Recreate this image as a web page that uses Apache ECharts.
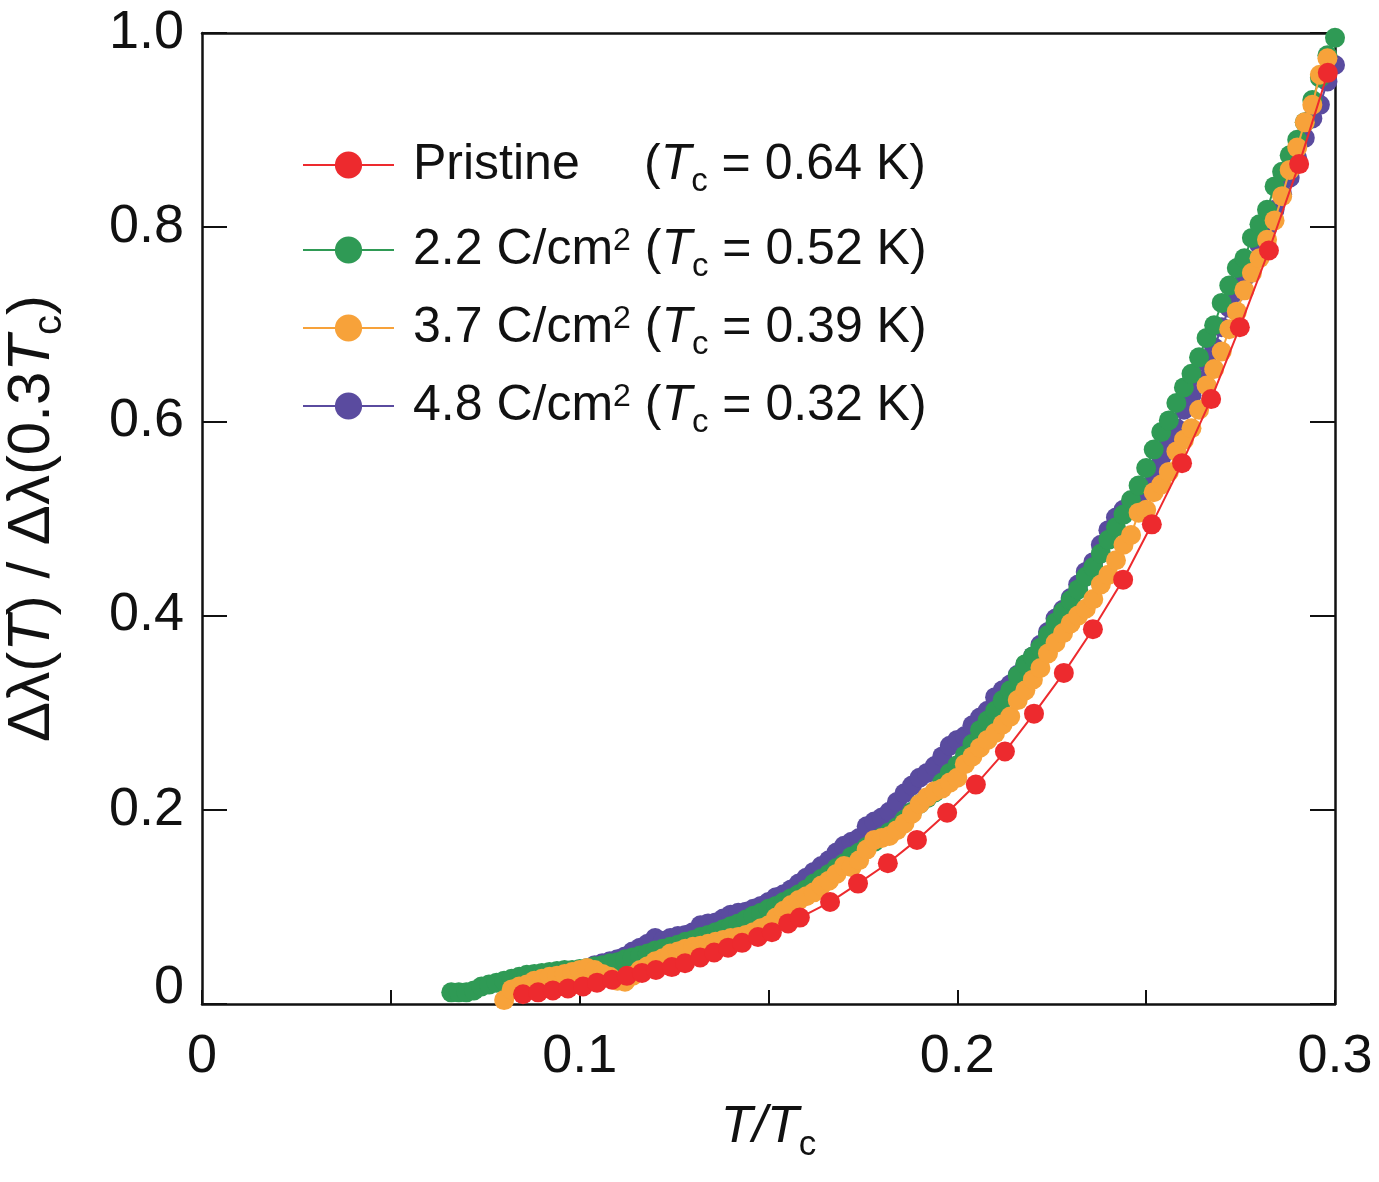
<!DOCTYPE html>
<html>
<head>
<meta charset="utf-8">
<script src="https://cdn.jsdelivr.net/npm/echarts@6/dist/echarts.min.js"></script>
<style>
html,body{margin:0;padding:0;background:#fff;}
#main{width:1379px;height:1182px;}
</style>
</head>
<body>
<div id="main"></div>
<script>
var fontName = 'Liberation Sans, Arial, Helvetica, sans-serif';

// legend order
var names = ['Pristine', '2.2 C/cm2', '3.7 C/cm2', '4.8 C/cm2'];
var tcText = ['0.64', '0.52', '0.39', '0.32'];
var colors = ['#ED2A2E', '#2F9A55', '#F7A23A', '#5A4B9F'];

// T/Tc , dlambda(T)/dlambda(0.3Tc)
var pristine = [
	[0.0850,0.010],[0.0890,0.012],[0.0929,0.014],[0.0969,0.016],[0.1009,0.018],[0.1046,0.022],
	[0.1086,0.025],[0.1125,0.029],[0.1165,0.032],[0.1202,0.035],[0.1244,0.038],[0.1279,0.042],
	[0.1319,0.048],[0.1356,0.053],[0.1393,0.058],[0.1430,0.063],[0.1472,0.069],[0.1509,0.074],
	[0.1552,0.083],[0.1583,0.089],[0.1663,0.105],[0.1737,0.124],[0.1816,0.145],[0.1893,0.169],
	[0.1973,0.197],[0.2049,0.226],[0.2126,0.260],[0.2203,0.299],[0.2282,0.341],[0.2359,0.386],
	[0.2439,0.437],[0.2515,0.494],[0.2595,0.557],[0.2672,0.623],[0.2748,0.697],[0.2825,0.776],
	[0.2905,0.865],[0.2981,0.959]
];

var dose22 = [
	[0.066,0.012],[0.068,0.012],[0.070,0.012],[0.072,0.014],[0.074,0.018],[0.076,0.020],
	[0.078,0.022],[0.080,0.024],[0.082,0.026],[0.084,0.028],[0.086,0.030],[0.088,0.031],
	[0.090,0.032],[0.092,0.033],[0.094,0.034],[0.096,0.035],[0.098,0.035],[0.100,0.036],
	[0.102,0.037],[0.104,0.039],[0.106,0.040],[0.108,0.042],[0.110,0.043],[0.112,0.046],
	[0.114,0.048],[0.116,0.050],[0.118,0.052],[0.120,0.055],[0.122,0.057],[0.124,0.059],
	[0.126,0.061],[0.128,0.064],[0.130,0.066],[0.132,0.069],[0.134,0.071],[0.136,0.074],
	[0.138,0.077],[0.140,0.080],[0.142,0.083],[0.144,0.087],[0.146,0.091],[0.148,0.094],
	[0.150,0.098],[0.152,0.101],[0.154,0.105],[0.156,0.109],[0.158,0.113],[0.160,0.118],
	[0.162,0.124],[0.164,0.129],[0.166,0.134],[0.168,0.140],[0.170,0.145],[0.172,0.152],
	[0.174,0.156],[0.176,0.162],[0.178,0.167],[0.180,0.172],[0.182,0.177],[0.184,0.182],
	[0.186,0.190],[0.188,0.198],[0.190,0.206],[0.192,0.212],[0.194,0.218],[0.196,0.228],
	[0.198,0.238],[0.200,0.246],[0.202,0.256],[0.204,0.268],[0.206,0.282],[0.208,0.292],
	[0.210,0.302],[0.212,0.313],[0.214,0.323],[0.216,0.338],[0.218,0.350],[0.220,0.358],
	[0.222,0.367],[0.224,0.380],[0.226,0.393],[0.228,0.404],[0.230,0.416],[0.232,0.427],
	[0.234,0.440],[0.236,0.450],[0.238,0.464],[0.240,0.478],[0.242,0.491],[0.244,0.504],
	[0.246,0.519],[0.248,0.534],[0.250,0.552],[0.252,0.571],[0.254,0.589],[0.256,0.601],
	[0.258,0.619],[0.260,0.635],[0.262,0.649],[0.264,0.666],[0.266,0.686],[0.268,0.699],
	[0.270,0.722],[0.272,0.740],[0.274,0.758],[0.276,0.768],[0.278,0.789],[0.280,0.803],
	[0.282,0.818],[0.284,0.842],[0.286,0.857],[0.288,0.874],[0.290,0.890],[0.292,0.908],
	[0.294,0.931],[0.296,0.954],[0.298,0.977],[0.300,0.995]
];

var dose37 = [
	[0.080,0.004],[0.082,0.015],[0.084,0.018],[0.086,0.020],[0.088,0.024],[0.090,0.026],
	[0.092,0.028],[0.094,0.029],[0.096,0.031],[0.098,0.033],[0.100,0.035],[0.102,0.037],
	[0.104,0.035],[0.106,0.031],[0.108,0.028],[0.110,0.024],[0.112,0.023],[0.114,0.029],
	[0.116,0.035],[0.118,0.039],[0.120,0.044],[0.122,0.047],[0.124,0.052],[0.126,0.054],
	[0.128,0.057],[0.130,0.059],[0.132,0.060],[0.134,0.062],[0.136,0.064],[0.138,0.066],
	[0.140,0.068],[0.142,0.069],[0.144,0.071],[0.146,0.074],[0.148,0.078],[0.150,0.081],
	[0.152,0.089],[0.154,0.096],[0.156,0.102],[0.158,0.107],[0.160,0.111],[0.162,0.115],
	[0.164,0.122],[0.166,0.127],[0.168,0.134],[0.170,0.142],[0.172,0.141],[0.174,0.148],
	[0.176,0.159],[0.178,0.169],[0.180,0.171],[0.182,0.173],[0.184,0.179],[0.186,0.186],
	[0.188,0.196],[0.190,0.206],[0.192,0.213],[0.194,0.219],[0.196,0.222],[0.198,0.228],
	[0.200,0.233],[0.202,0.247],[0.204,0.255],[0.206,0.264],[0.208,0.272],[0.210,0.279],
	[0.212,0.288],[0.214,0.296],[0.216,0.313],[0.218,0.323],[0.220,0.334],[0.222,0.346],
	[0.224,0.361],[0.226,0.372],[0.228,0.382],[0.230,0.392],[0.232,0.400],[0.234,0.407],
	[0.236,0.417],[0.238,0.432],[0.240,0.442],[0.242,0.457],[0.244,0.473],[0.246,0.483],
	[0.248,0.506],[0.250,0.509],[0.252,0.527],[0.254,0.535],[0.256,0.548],[0.258,0.569],
	[0.260,0.581],[0.262,0.593],[0.264,0.612],[0.266,0.637],[0.268,0.654],[0.270,0.672],
	[0.272,0.695],[0.274,0.713],[0.276,0.735],[0.278,0.753],[0.280,0.768],[0.282,0.787],
	[0.284,0.807],[0.286,0.832],[0.288,0.859],[0.290,0.882],[0.292,0.908],[0.294,0.926],
	[0.296,0.957],[0.298,0.974]
];

var dose48 = [
	[0.104,0.040],[0.106,0.042],[0.108,0.044],[0.110,0.046],[0.112,0.049],[0.114,0.054],
	[0.116,0.058],[0.118,0.062],[0.120,0.068],[0.122,0.065],[0.124,0.068],[0.126,0.070],
	[0.128,0.071],[0.130,0.074],[0.132,0.081],[0.134,0.083],[0.136,0.084],[0.138,0.088],
	[0.140,0.092],[0.142,0.094],[0.144,0.095],[0.146,0.098],[0.148,0.101],[0.150,0.105],
	[0.152,0.110],[0.154,0.113],[0.156,0.118],[0.158,0.124],[0.160,0.130],[0.162,0.136],
	[0.164,0.142],[0.166,0.148],[0.168,0.156],[0.170,0.163],[0.172,0.167],[0.174,0.171],
	[0.176,0.183],[0.178,0.188],[0.180,0.192],[0.182,0.198],[0.184,0.208],[0.186,0.217],
	[0.188,0.225],[0.190,0.233],[0.192,0.238],[0.194,0.245],[0.196,0.255],[0.198,0.266],
	[0.200,0.272],[0.202,0.276],[0.204,0.287],[0.206,0.295],[0.208,0.302],[0.210,0.316],
	[0.212,0.323],[0.214,0.329],[0.216,0.339],[0.218,0.349],[0.220,0.358],[0.222,0.370],
	[0.224,0.383],[0.226,0.397],[0.228,0.406],[0.230,0.418],[0.232,0.432],[0.234,0.445],
	[0.236,0.455],[0.238,0.473],[0.240,0.488],[0.242,0.501],[0.244,0.509],[0.246,0.514],
	[0.248,0.522],[0.250,0.531],[0.252,0.546],[0.254,0.563],[0.256,0.579],[0.258,0.593],
	[0.260,0.612],[0.262,0.627],[0.264,0.643],[0.266,0.661],[0.268,0.676],[0.270,0.697],
	[0.272,0.717],[0.274,0.733],[0.276,0.748],[0.278,0.764],[0.280,0.782],[0.282,0.799],
	[0.284,0.818],[0.286,0.834],[0.288,0.851],[0.290,0.871],[0.292,0.892],[0.294,0.912],
	[0.296,0.926],[0.298,0.950],[0.300,0.967]
];

var allData = [pristine, dose22, dose37, dose48];

var myChart = echarts.init(document.getElementById('main'));

var richTxt = {
	t: {fontFamily: fontName, fontSize: 50, lineHeight: 66, color: '#111'},
	f: {fontFamily: fontName, fontSize: 50, lineHeight: 66, color: '#111', padding: [0, 0, 0, 14]},
	n: {fontFamily: fontName, fontSize: 50, lineHeight: 66, color: '#111', padding: [0, 0, 0, 14], width: 231},
	i: {fontFamily: fontName, fontSize: 50, lineHeight: 66, color: '#111', fontStyle: 'italic'},
	s: {fontFamily: fontName, fontSize: 33, lineHeight: 27, color: '#111', verticalAlign: 'bottom'},
	p: {fontFamily: fontName, fontSize: 32, lineHeight: 28, color: '#111', verticalAlign: 'top', padding: [8, 0, 0, 0]}
};

function legendText(name) {
	var idx = names.indexOf(name);
	var tail = '{t|(}{i|T}{s|c}{t| = ' + tcText[idx] + ' K)}';
	if (idx == 0) {
		return '{n|Pristine}' + tail;
	}
	return '{f|' + name.replace('cm2', 'cm') + '}{p|2}{t| }' + tail;
}

//4 separate legends so that every row sits where it should
var legendTops = [140, 217, 295, 373];
var legends = names.map(function(nm, i) {
	return {
		data: [nm],
		left: 302,
		top: legendTops[i],
		orient: 'vertical',
		padding: 0,
		itemWidth: 91,
		itemHeight: 34,
		selectedMode: false,
		formatter: legendText,
		textStyle: {fontFamily: fontName, fontSize: 50, color: '#111', rich: richTxt}
	};
});

// drawing order: purple at the bottom, red on top
var drawOrder = [3, 1, 2, 0];
var series = drawOrder.map(function(k) {
	return {
		name: names[k],
		type: 'line',
		data: allData[k],
		symbol: 'circle',
		symbolSize: 20,
		showSymbol: true,
		clip: false,
		itemStyle: {color: colors[k]},
		lineStyle: {color: colors[k], width: 2},
		z: 2 + drawOrder.indexOf(k)
	};
});

var option = {
	backgroundColor: '#fff',
	animation: false,
	textStyle: {fontFamily: fontName},
	grid: {left: 202, right: 44, top: 33, bottom: 178, containLabel: false, outerBoundsMode: 'none'},
	legend: legends,
	xAxis: [{
		type: 'value',
		min: 0,
		max: 0.3,
		interval: 0.05,
		position: 'bottom',
		splitLine: {show: false},
		axisLine: {lineStyle: {color: '#111', width: 2.5}},
		axisTick: {inside: true, length: 14, lineStyle: {color: '#111', width: 2}},
		axisLabel: {
			margin: 26,
			fontFamily: fontName,
			fontSize: 54,
			color: '#111',
			formatter: function(v) {
				var r = Math.round(v * 100);
				if (r % 10 != 0) return '';
				return r == 0 ? '0' : (r / 100).toFixed(1);
			}
		},
		name: '{i|T/T}{s|c}',
		nameLocation: 'middle',
		nameGap: 89,
		nameTextStyle: {
			fontFamily: fontName,
			fontSize: 52,
			color: '#111',
			rich: {
				i: {fontFamily: fontName, fontSize: 52, lineHeight: 70, fontStyle: 'italic', color: '#111'},
				s: {fontFamily: fontName, fontSize: 35, lineHeight: 28, verticalAlign: 'bottom', color: '#111'}
			}
		}
	}, {
		type: 'value',
		min: 0,
		max: 0.3,
		position: 'top',
		splitLine: {show: false},
		axisLine: {onZero: false, lineStyle: {color: '#111', width: 2.5}},
		axisTick: {show: false},
		axisLabel: {show: false}
	}],
	yAxis: [{
		type: 'value',
		min: 0,
		max: 1,
		interval: 0.2,
		position: 'left',
		splitLine: {show: false},
		axisLine: {show: true, lineStyle: {color: '#111', width: 2.5}},
		axisTick: {show: true, inside: true, length: 25, lineStyle: {color: '#111', width: 2}},
		axisLabel: {
			margin: 18,
			fontFamily: fontName,
			fontSize: 54,
			color: '#111',
			formatter: function(v) {
				if (v == 0) return '{z|0}';
				return v.toFixed(1);
			},
			rich: {
				z: {fontFamily: fontName, fontSize: 54, color: '#111', padding: [0, 0, 32, 0]}
			}
		},
		name: '{t|Δλ(}{i|T}{t|) / Δλ(0.3}{i|T}{s|c}{t|)}',
		nameLocation: 'middle',
		nameGap: 132,
		nameRotate: 90,
		nameTextStyle: {
			fontFamily: fontName,
			fontSize: 60,
			color: '#111',
			rich: {
				t: {fontFamily: fontName, fontSize: 60, lineHeight: 76, color: '#111'},
				i: {fontFamily: fontName, fontSize: 60, lineHeight: 76, fontStyle: 'italic', color: '#111'},
				s: {fontFamily: fontName, fontSize: 40, lineHeight: 32, verticalAlign: 'bottom', color: '#111'}
			}
		}
	}, {
		type: 'value',
		min: 0,
		max: 1,
		interval: 0.2,
		position: 'right',
		splitLine: {show: false},
		axisLine: {show: true, onZero: false, lineStyle: {color: '#111', width: 2.5}},
		axisTick: {show: true, inside: true, length: 25, lineStyle: {color: '#111', width: 2}},
		axisLabel: {show: false}
	}],
	series: series
};

myChart.setOption(option);
</script>
</body>
</html>
